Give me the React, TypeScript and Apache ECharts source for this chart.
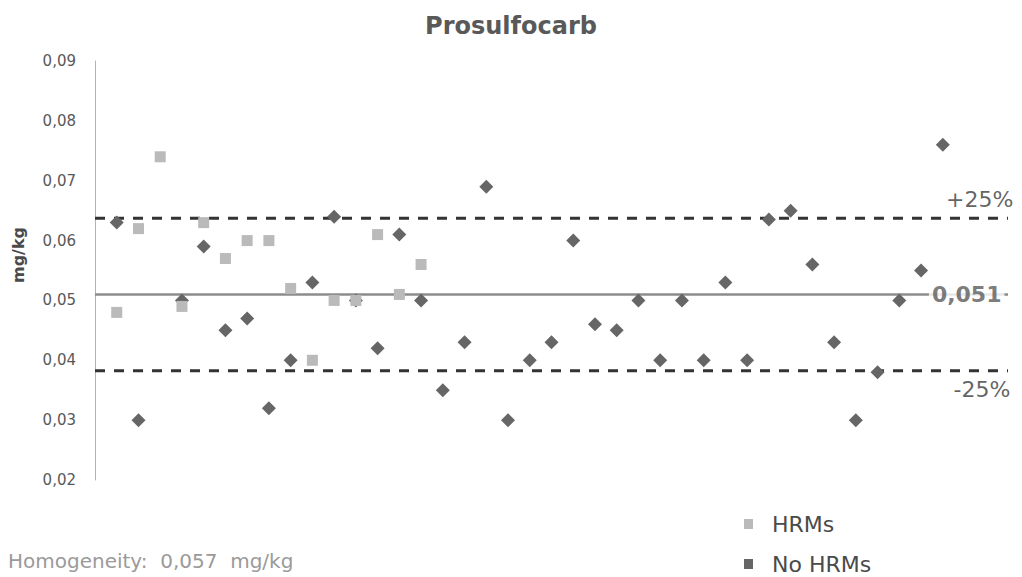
import React, { useEffect, useRef } from "react";
import * as echarts from "echarts";

// Laboratory results for prosulfocarb (mg/kg), by participant number
const hrmLabs = [1, 2, 3, 4, 5, 6, 7, 8, 9, 10, 11, 12, 13, 14, 15];
const hrmValues = [0.048, 0.062, 0.074, 0.049, 0.063, 0.057, 0.060, 0.060, 0.052, 0.040, 0.050, 0.050, 0.061, 0.051, 0.056];

const noHrmLabs = [
  1, 2, 4, 5, 6, 7, 8, 9, 10, 11, 12, 13, 14, 15, 16, 17, 18, 19, 20, 21,
  22, 23, 24, 25, 26, 27, 28, 29, 30, 31, 32, 33, 34, 35, 36, 37, 38, 39,
];
const noHrmValues = [
  0.063, 0.030, 0.050, 0.059, 0.045, 0.047, 0.032, 0.040, 0.053, 0.064,
  0.050, 0.042, 0.061, 0.050, 0.035, 0.043, 0.069, 0.030, 0.040, 0.043,
  0.060, 0.046, 0.045, 0.050, 0.040, 0.050, 0.040, 0.053, 0.040, 0.0635,
  0.065, 0.056, 0.043, 0.030, 0.038, 0.050, 0.055, 0.076,
];

// Assigned value and ±25 % tolerance band
const assignedValue = 0.051;
const upperLimit = assignedValue * 1.25;
const lowerLimit = assignedValue * 0.75;
const xSpan = [0, 42];

const yTicks = [0.02, 0.03, 0.04, 0.05, 0.06, 0.07, 0.08, 0.09];
const homogeneity = 0.057;

const FONT = "DejaVu Sans";
const fmt = (v: number, d: number) => v.toFixed(d).replace(".", ",");

export default function App() {
  const ref = useRef<HTMLDivElement>(null);

  useEffect(() => {
    if (!ref.current) return;
    const chart = echarts.init(ref.current, null, { renderer: "svg" });

    const hLine = (name: string, v: number, style: any) => ({
      name,
      type: "line",
      data: [
        [xSpan[0], v],
        [xSpan[1], v],
      ],
      symbol: "none",
      silent: true,
      z: 1,
      lineStyle: style,
    });

    chart.setOption({
      animation: false,
      backgroundColor: "#ffffff",
      textStyle: { fontFamily: FONT },
      title: {
        text: "Prosulfocarb",
        left: "center",
        top: 9,
        textStyle: { fontFamily: FONT, fontSize: 24, fontWeight: "bold", color: "#595959" },
      },
      grid: { left: 95, right: 14, top: 61, bottom: 97 },
      xAxis: {
        type: "value",
        min: xSpan[0],
        max: xSpan[1],
        show: false,
      },
      yAxis: {
        type: "value",
        min: yTicks[0],
        max: yTicks[yTicks.length - 1],
        interval: 0.01,
        axisLine: { show: true, lineStyle: { color: "#b3b3b3", width: 1 } },
        axisTick: { show: false },
        splitLine: { show: false },
        axisLabel: {
          margin: 19,
          fontFamily: FONT,
          fontSize: 15,
          color: "#595959",
          formatter: (v: number) => fmt(v, 2),
        },
      },
      legend: {
        data: ["HRMs", "No HRMs"],
        orient: "vertical",
        left: 744,
        top: 512,
        height: 65,
        padding: 0,
        itemGap: 16,
        itemWidth: 9,
        itemHeight: 10,
        icon: "rect",
        textStyle: {
          fontFamily: FONT,
          fontSize: 22,
          lineHeight: 24,
          color: "#4a4a4a",
          padding: [0, 0, 0, 14],
        },
      },
      graphic: [
        {
          type: "text",
          left: 8,
          top: 551,
          style: {
            text: `Homogeneity:  ${fmt(homogeneity, 3)}  mg/kg`,
            fontFamily: FONT,
            fontSize: 20,
            fill: "#9a9a9a",
          },
        },
        {
          type: "text",
          x: 18,
          y: 255,
          rotation: Math.PI / 2,
          style: {
            text: "mg/kg",
            fontFamily: FONT,
            fontSize: 16,
            fontWeight: "bold",
            fill: "#4a4a4a",
            align: "center",
            verticalAlign: "middle",
          },
        },
      ],
      series: [
        hLine("assigned", assignedValue, { color: "#8c8c8c", width: 2.5, type: "solid" }),
        hLine("upper", upperLimit, { color: "#333333", width: 3, type: [10, 9] }),
        hLine("lower", lowerLimit, { color: "#333333", width: 3, type: [10, 9] }),
        {
          name: "No HRMs",
          type: "scatter",
          symbol: "diamond",
          symbolSize: 14,
          z: 3,
          itemStyle: { color: "#666666", opacity: 1 },
          data: noHrmLabs.map((x, i) => [x, noHrmValues[i]]),
        },
        {
          name: "HRMs",
          type: "scatter",
          symbol: "rect",
          symbolSize: 11,
          z: 4,
          itemStyle: { color: "#bababa", opacity: 1 },
          data: hrmLabs.map((x, i) => [x, hrmValues[i]]),
        },
        {
          name: "limits",
          type: "scatter",
          symbolSize: 0,
          silent: true,
          z: 5,
          data: [
            {
              value: [40.1, assignedValue],
              label: {
                show: true,
                position: "inside",
                formatter: fmt(assignedValue, 3),
                fontFamily: FONT,
                fontSize: 22,
                fontWeight: "bold",
                color: "#595959",
                backgroundColor: "#ffffff",
                padding: [2, 3, 2, 3],
              },
            },
            {
              value: [40.7, upperLimit],
              label: {
                show: true,
                position: "top",
                distance: 8,
                formatter: "+25%",
                fontFamily: FONT,
                fontSize: 22,
                color: "#3a3a3a",
              },
            },
            {
              value: [40.8, lowerLimit],
              label: {
                show: true,
                position: "bottom",
                distance: 8,
                formatter: "-25%",
                fontFamily: FONT,
                fontSize: 22,
                color: "#3a3a3a",
              },
            },
          ],
        },
      ],
    });

    return () => chart.dispose();
  }, []);

  return (
    <div
      ref={ref}
      style={{ position: "fixed", left: 0, top: 0, width: 1022, height: 577, background: "#fff" }}
    />
  );
}
